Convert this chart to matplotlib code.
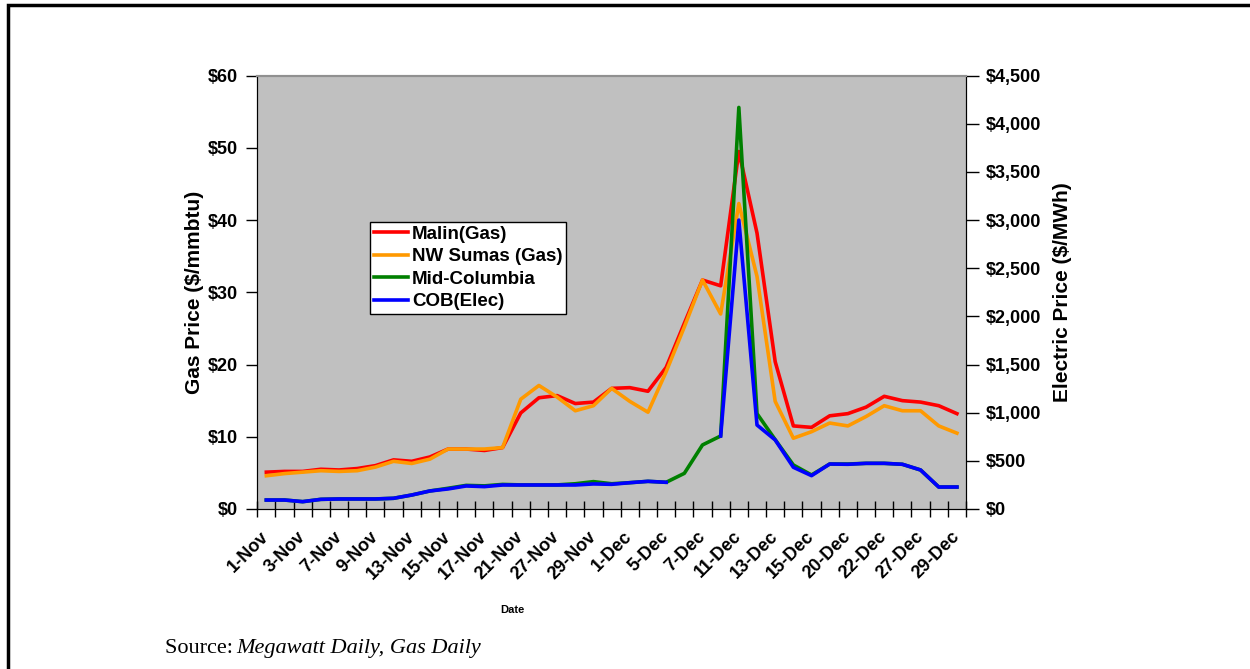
import numpy as np
import matplotlib
matplotlib.use('Agg')
import matplotlib.pyplot as plt
from matplotlib.patches import Rectangle
from matplotlib.ticker import FuncFormatter, FixedLocator
from matplotlib.transforms import ScaledTranslation

plt.rcParams['font.family'] = ['Liberation Sans', 'DejaVu Sans']
plt.rcParams['font.weight'] = 'bold'

dates = ['1-Nov', '2-Nov', '3-Nov', '6-Nov', '7-Nov', '8-Nov', '9-Nov', '10-Nov',
         '13-Nov', '14-Nov', '15-Nov', '16-Nov', '17-Nov', '20-Nov', '21-Nov',
         '22-Nov', '27-Nov', '28-Nov', '29-Nov', '30-Nov', '1-Dec', '4-Dec',
         '5-Dec', '6-Dec', '7-Dec', '8-Dec', '11-Dec', '12-Dec', '13-Dec',
         '14-Dec', '15-Dec', '18-Dec', '20-Dec', '21-Dec', '22-Dec', '26-Dec',
         '27-Dec', '28-Dec', '29-Dec']

# gas prices, $/mmbtu
malin = [5.1, 5.2, 5.2, 5.5, 5.4, 5.6, 6.0, 6.8, 6.6, 7.2,
         8.3, 8.3, 8.1, 8.5, 13.3, 15.4, 15.7, 14.6, 14.8, 16.7,
         16.8, 16.3, 19.6, 25.7, 31.7, 30.9, 49.5, 38.2, 20.4, 11.5,
         11.3, 12.9, 13.2, 14.1, 15.6, 15.0, 14.8, 14.3, 13.2]
nw_sumas = [4.6, 4.9, 5.1, 5.3, 5.2, 5.3, 5.8, 6.6, 6.3, 6.9,
            8.3, 8.3, 8.3, 8.5, 15.2, 17.1, 15.5, 13.6, 14.3, 16.7,
            14.9, 13.4, 19.0, 25.2, 31.7, 27.0, 42.3, 32.2, 14.9, 9.8,
            10.7, 11.9, 11.5, 12.8, 14.3, 13.6, 13.6, 11.5, 10.5]

# electric prices, $/MWh
mid_columbia = [93, 93, 76, 100, 104, 104, 104, 111, 145, 187,
                215, 245, 240, 255, 250, 250, 250, 262, 284, 262,
                273, 287, 277, 370, 665, 758, 4170, 990, 720, 457,
                353, 467, 467, 474, 474, 464, 405, 228, 228]
cob = [93, 93, 76, 100, 104, 104, 104, 111, 145, 187,
       208, 239, 232, 249, 249, 249, 249, 249, 260, 256,
       273, 287, 277, np.nan, np.nan, 758, 3000, 872, 717, 433,
       346, 467, 464, 474, 474, 464, 405, 228, 228]

x = np.arange(len(dates))

fig = plt.figure(figsize=(12.5, 6.69), dpi=100)
ax = fig.add_axes([0.2058, 0.2392, 0.567, 0.6477])
ax2 = ax.twinx()

ax.set_facecolor('#c0c0c0')
lw = 2.6
l1, = ax.plot(x, malin, color='#ff0000', lw=lw, label='Malin(Gas)')
l2, = ax.plot(x, nw_sumas, color='#ff9900', lw=lw, label='NW Sumas (Gas)')
l3, = ax2.plot(x, mid_columbia, color='#008000', lw=lw, label='Mid-Columbia')
l4, = ax2.plot(x, cob, color='#0000ff', lw=lw, label='COB(Elec)')

ax.set_xlim(-0.5, len(dates) - 0.5)
ax.set_ylim(0, 60)
ax2.set_ylim(0, 4500)
ax.set_yticks(np.arange(0, 61, 10))
ax2.set_yticks(np.arange(0, 4501, 500))
ax.yaxis.set_major_formatter(FuncFormatter(lambda v, p: '${:,.0f}'.format(v)))
ax2.yaxis.set_major_formatter(FuncFormatter(lambda v, p: '${:,.0f}'.format(v)))

# tick marks on category boundaries, labels on every other category
ax.xaxis.set_major_locator(FixedLocator(np.arange(-0.5, len(dates), 1.0)))
ax.set_xticklabels([])
ax.set_xticks(x[::2], minor=True)
ax.set_xticklabels(dates[::2], minor=True, rotation=45, ha='right',
                   rotation_mode='anchor', fontsize=13, fontweight='bold')
shift = ScaledTranslation(-7 / 100, 0, fig.dpi_scale_trans)
for lab in ax.get_xticklabels(minor=True):
    lab.set_va('center')
    lab.set_transform(lab.get_transform() + shift)
ax.tick_params(axis='x', which='major', direction='inout', length=11, width=1)
ax.tick_params(axis='x', which='minor', length=0, pad=18)
ax.tick_params(axis='y', direction='out', length=8, width=1, labelsize=13, pad=6)
ax2.tick_params(axis='y', direction='out', length=9, width=1, labelsize=13, pad=5)

for a in (ax, ax2):
    a.spines['top'].set_color('#909090')
    a.spines['top'].set_linewidth(1.5)
    for s in ('left', 'right', 'bottom'):
        a.spines[s].set_color('black')

ax.set_ylabel('Gas Price ($/mmbtu)', fontsize=15, fontweight='bold', labelpad=3)
ax2.set_ylabel('Electric Price ($/MWh)', fontsize=15, fontweight='bold',
               labelpad=9, rotation=90)
ax.set_xlabel('Date', fontsize=8, fontweight='bold')
ax.xaxis.set_label_coords(0.36, -0.222)

leg = ax2.legend(handles=[l1, l2, l3, l4], loc='upper left',
                 bbox_to_anchor=(0.159, 0.662), borderaxespad=0,
                 fancybox=False, frameon=True, edgecolor='black',
                 prop={'size': 13.5, 'weight': 'bold'},
                 handlelength=1.85, handletextpad=0.2, labelspacing=0.28,
                 borderpad=0.2)
leg.get_frame().set_linewidth(1)
leg.get_frame().set_alpha(1)

fig.text(165 / 1250, 1 - 653 / 669, 'Source: ', fontsize=16,
         family='Liberation Serif', fontweight='normal', va='baseline')
fig.text(236 / 1250, 1 - 653 / 669, 'Megawatt Daily, Gas Daily', fontsize=16,
         family='Liberation Serif', style='italic', fontweight='normal',
         va='baseline')

# page frame
fig.add_artist(Rectangle((7.5 / 1250, -0.1), 1.2, 1.1 - 5.5 / 669,
                         transform=fig.transFigure, fill=False,
                         edgecolor='black', lw=2.5))

fig.savefig('out.png', dpi=100)
